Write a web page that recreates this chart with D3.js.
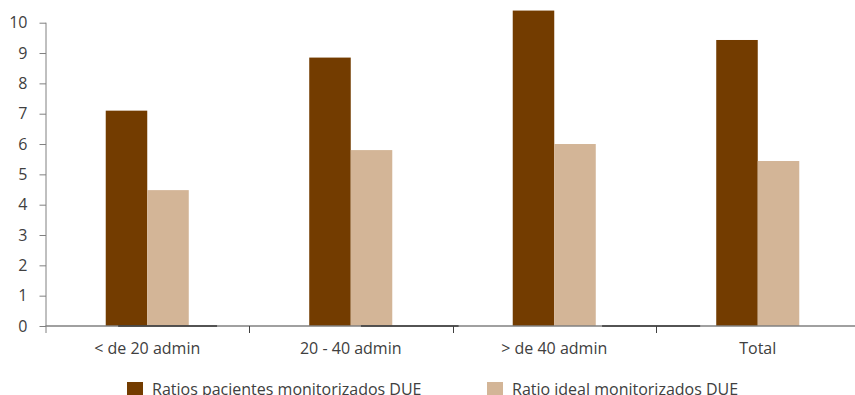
<!DOCTYPE html>
<html>
<head>
<meta charset="utf-8">
<script src="https://cdn.jsdelivr.net/npm/d3@7/dist/d3.min.js"></script>
<style>
  html, body { margin: 0; padding: 0; background: #fff; }
  svg { display: block; }
  text { font-family: "Open Sans", "Noto Sans", sans-serif; fill: #404040; }
</style>
</head>
<body>
<svg id="chart" width="855" height="395"></svg>
<script>
// Categories and series
const categories = ["< de 20 admin", "20 - 40 admin", "> de 40 admin", "Total"];
const seriesNames = ["Ratios pacientes monitorizados DUE", "Ratio ideal monitorizados DUE"];
const ratiosPacientes = [7.1, 8.85, 10.4, 9.43];
const ratioIdeal = [4.48, 5.8, 6.0, 5.44];
const seriesColors = ["#733c00", "#d3b597"];
const yTicks = [0, 1, 2, 3, 4, 5, 6, 7, 8, 9, 10];
// Darker stretches of the baseline, in category units along the x axis
const baseShade = [[0.357, 0.843], [1.55, 2.03], [2.735, 3.217]];

const svg = d3.select("#chart");
const plotLeft = 45.5, plotRight = 859.5, plotTop = 22.7, plotBottom = 326;
const fontSize = "16px";

const x = d3.scaleBand().domain(categories).range([plotLeft, plotRight])
  .paddingInner(0.592).paddingOuter(0.296);
const xUnits = d3.scaleLinear().domain([0, categories.length]).range([plotLeft, plotRight]);
const x1 = d3.scaleBand().domain([0, 1]).range([0, x.bandwidth()]);
const y = d3.scaleLinear().domain([0, 10]).range([plotBottom, plotTop]);

// Bars
const series = [ratiosPacientes, ratioIdeal];
series.forEach((vals, si) => {
  svg.append("g").selectAll("rect").data(vals).join("rect")
    .attr("x", (d, i) => x(categories[i]) + x1(si))
    .attr("width", x1.bandwidth())
    .attr("y", d => y(d))
    .attr("height", d => y(0) - y(d))
    .attr("fill", seriesColors[si]);
});

// Y axis
const yAxis = svg.append("g").attr("transform", `translate(${plotLeft + 0.5},0)`)
  .call(d3.axisLeft(y).tickValues(yTicks).tickSize(6.5).tickPadding(12).tickFormat(d3.format("d")));
yAxis.select(".domain").remove();
yAxis.selectAll(".tick line").attr("stroke", "#808080");
yAxis.selectAll(".tick text").style("font-size", fontSize).attr("fill", "#404040")
  .style("font-family", "'Open Sans', 'Noto Sans', sans-serif");
svg.append("line")
  .attr("x1", plotLeft + 0.5).attr("x2", plotLeft + 0.5)
  .attr("y1", y(10)).attr("y2", plotBottom + 7)
  .attr("stroke", "#808080").attr("stroke-width", 1);

// X baseline
svg.append("line")
  .attr("x1", plotLeft).attr("x2", plotRight)
  .attr("y1", plotBottom).attr("y2", plotBottom)
  .attr("stroke", "#808080").attr("stroke-width", 1.6);
svg.append("g").selectAll("line").data(baseShade).join("line")
  .attr("x1", d => xUnits(d[0])).attr("x2", d => xUnits(d[1]))
  .attr("y1", plotBottom).attr("y2", plotBottom)
  .attr("stroke", "#3a3a3a").attr("stroke-width", 1.6);

// Category boundary ticks
svg.append("g").selectAll("line").data(d3.range(1, categories.length)).join("line")
  .attr("x1", d => Math.round(xUnits(d)) + 0.5).attr("x2", d => Math.round(xUnits(d)) + 0.5)
  .attr("y1", plotBottom).attr("y2", plotBottom + 7)
  .attr("stroke", "#404040").attr("stroke-width", 1);

// Category labels
svg.append("g").selectAll("text").data(categories).join("text")
  .attr("x", d => x(d) + x.bandwidth() / 2)
  .attr("y", 354)
  .attr("text-anchor", "middle")
  .style("font-size", fontSize)
  .text(d => d);

// Legend
const legendX = [127, 487];
const lg = svg.append("g").selectAll("g").data(seriesNames).join("g")
  .attr("transform", (d, i) => `translate(${legendX[i]},382)`);
lg.append("rect").attr("width", 16).attr("height", 16)
  .attr("fill", (d, i) => seriesColors[i]);
lg.append("text").attr("x", 25).attr("y", 12.5)
  .style("font-size", fontSize).text(d => d);
</script>
</body>
</html>
